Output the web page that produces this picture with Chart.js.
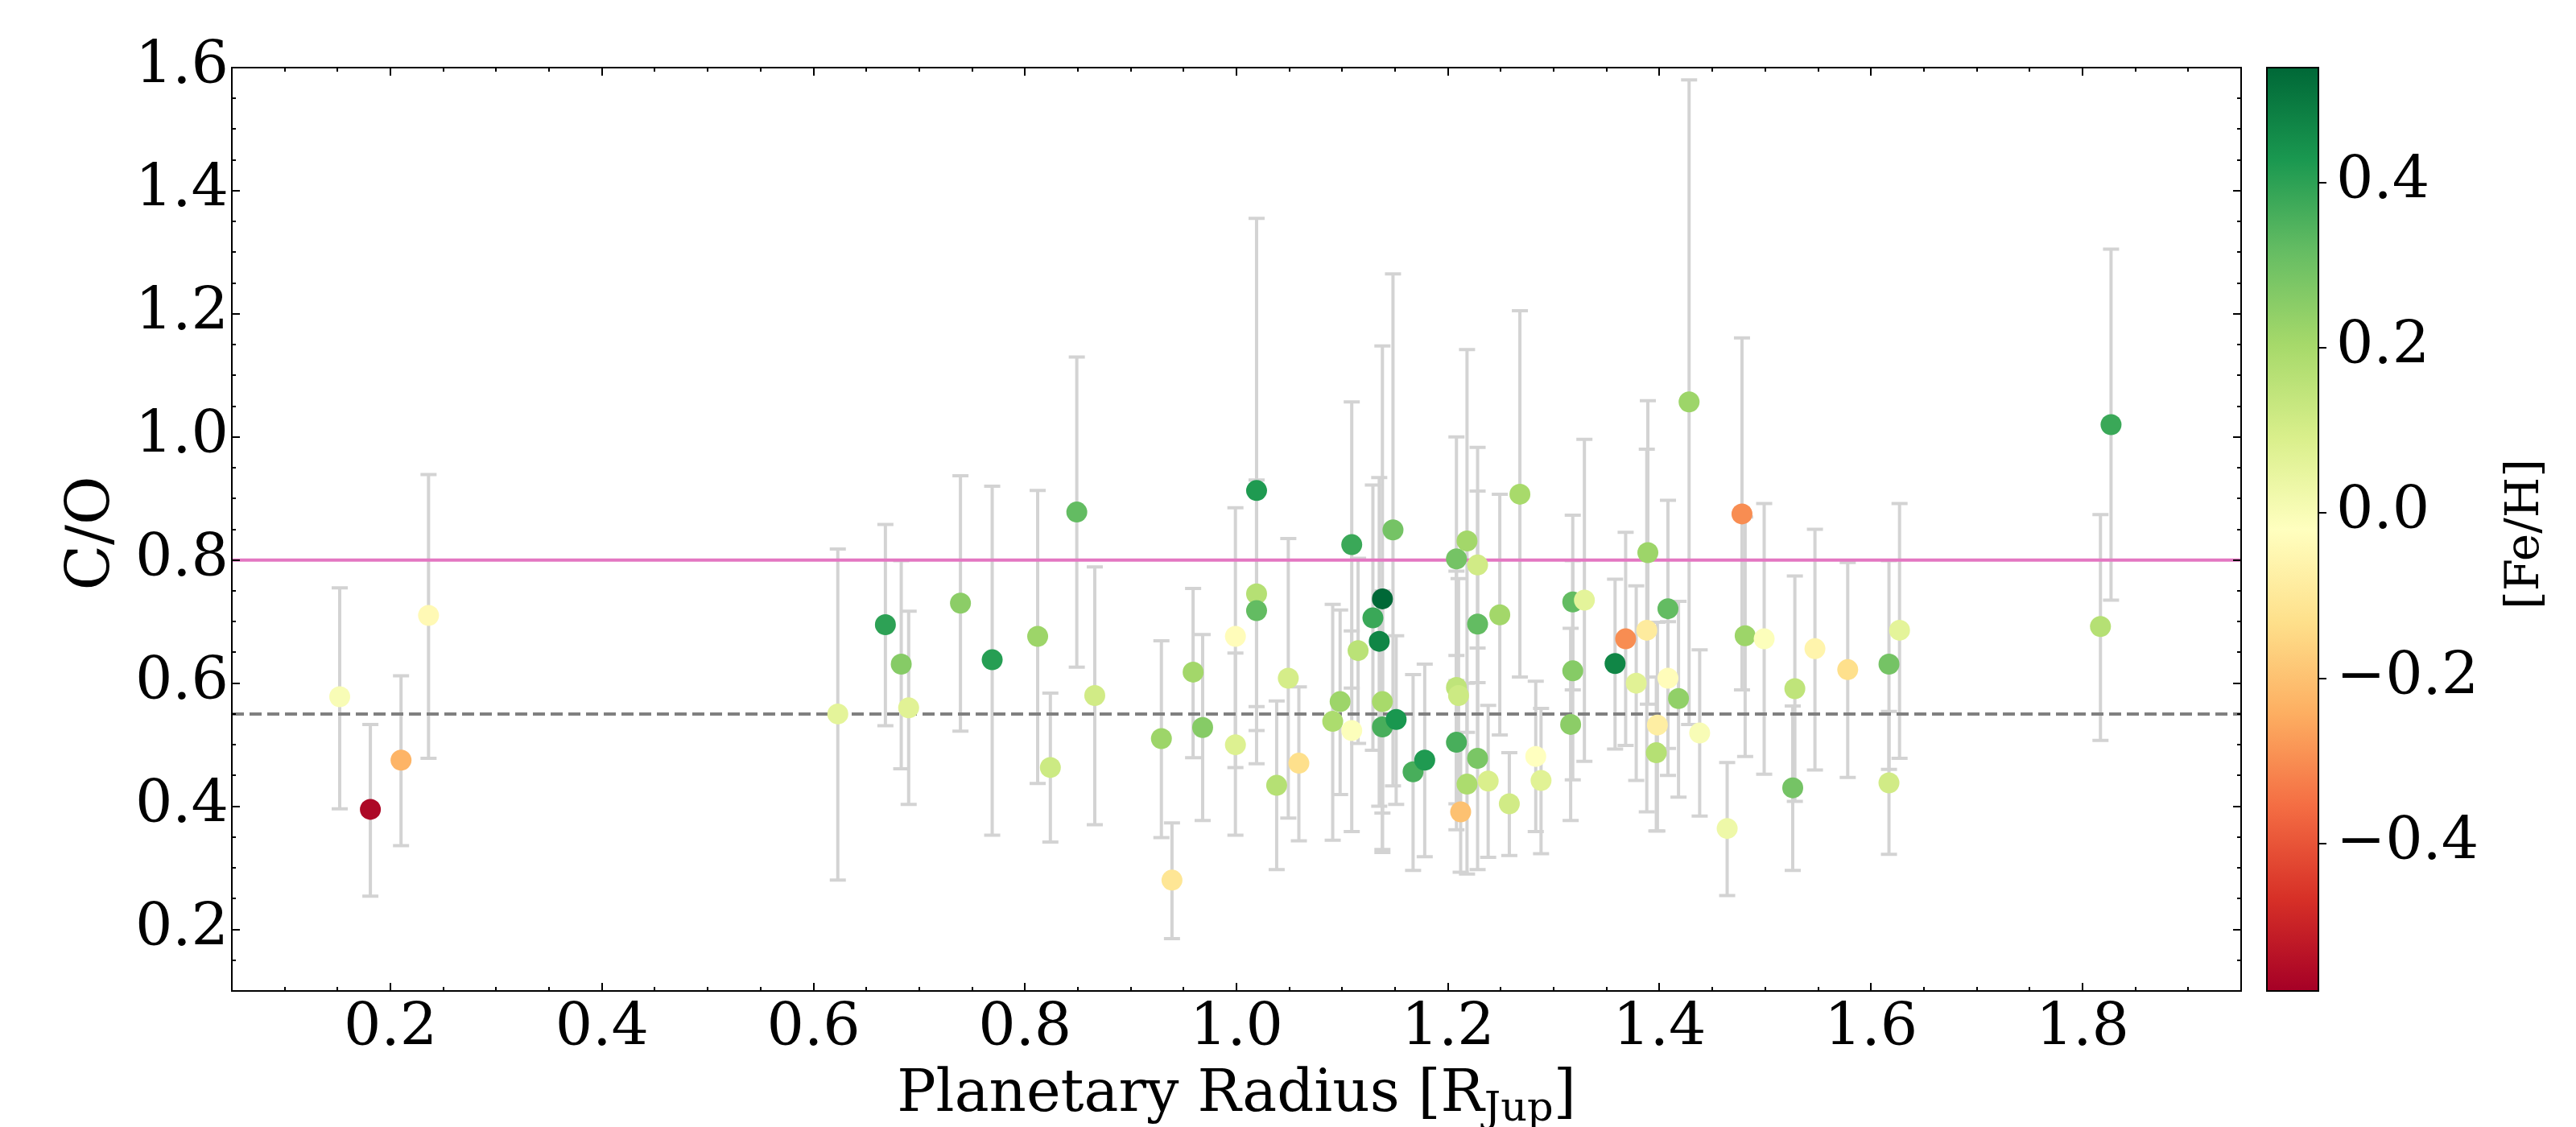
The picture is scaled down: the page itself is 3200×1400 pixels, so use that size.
<!DOCTYPE html>
<html>
<head>
<meta charset="utf-8">
<script src="https://cdn.jsdelivr.net/npm/chart.js@4.4.1/dist/chart.umd.min.js"></script>
<style>
body{margin:0;background:#fff}
#wrap{position:relative;width:3200px;height:1400px;background:#fff}
canvas{position:absolute;top:0}
</style>
</head>
<body>
<div id="wrap">
<canvas id="grafico" width="3200" height="1400" style="left:0"></canvas>
<canvas id="barraCor" width="500" height="1400" style="left:2700px"></canvas>
</div>
<script>
// dados: raio (R_Jup), C/O com limites inferior/superior e [Fe/H]
const radius = [0.152, 0.181, 0.210, 0.236, 0.623, 0.668, 0.683, 0.690, 0.739, 0.769,
  0.812, 0.824, 0.849, 0.866, 0.929, 0.939, 0.959, 0.968, 0.999, 0.999,
  1.019, 1.019, 1.019, 1.038, 1.049, 1.059, 1.091, 1.098, 1.109, 1.109,
  1.115, 1.129, 1.135, 1.138, 1.138, 1.138, 1.148, 1.151, 1.167, 1.178,
  1.208, 1.208, 1.210, 1.208, 1.212, 1.218, 1.218, 1.228, 1.228, 1.228,
  1.238, 1.249, 1.258, 1.268, 1.283, 1.288, 1.316, 1.318, 1.318, 1.329,
  1.358, 1.368, 1.378, 1.388, 1.389, 1.398, 1.397, 1.408, 1.408, 1.418,
  1.428, 1.438, 1.464, 1.478, 1.481, 1.499, 1.526, 1.528, 1.547, 1.578,
  1.617, 1.617, 1.627, 1.817, 1.827];
const co = [0.578, 0.395, 0.475, 0.710, 0.550, 0.695, 0.631, 0.560, 0.730, 0.638,
  0.676, 0.463, 0.878, 0.580, 0.510, 0.280, 0.618, 0.528, 0.676, 0.500,
  0.913, 0.745, 0.718, 0.434, 0.608, 0.470, 0.538, 0.570, 0.825, 0.523,
  0.653, 0.706, 0.668, 0.737, 0.570, 0.529, 0.849, 0.541, 0.456, 0.475,
  0.802, 0.593, 0.580, 0.504, 0.391, 0.831, 0.436, 0.792, 0.696, 0.478,
  0.441, 0.711, 0.404, 0.907, 0.481, 0.442, 0.533, 0.620, 0.732, 0.735,
  0.632, 0.672, 0.600, 0.686, 0.812, 0.532, 0.487, 0.721, 0.608, 0.575,
  1.057, 0.519, 0.364, 0.875, 0.677, 0.672, 0.430, 0.591, 0.656, 0.622,
  0.631, 0.438, 0.686, 0.692, 1.020];
const coLo = [0.396, 0.254, 0.336, 0.478, 0.280, 0.531, 0.461, 0.403, 0.522, 0.353,
  0.437, 0.342, 0.626, 0.370, 0.349, 0.185, 0.479, 0.377, 0.463, 0.353,
  0.469, 0.562, 0.523, 0.297, 0.381, 0.344, 0.345, 0.419, 0.592, 0.359,
  0.502, 0.491, 0.400, 0.325, 0.389, 0.330, 0.433, 0.403, 0.296, 0.318,
  0.604, 0.404, 0.390, 0.362, 0.293, 0.520, 0.290, 0.601, 0.480, 0.297,
  0.317, 0.516, 0.320, 0.610, 0.359, 0.323, 0.377, 0.443, 0.589, 0.473,
  0.493, 0.499, 0.442, 0.391, 0.566, 0.360, 0.360, 0.494, 0.450, 0.415,
  0.533, 0.384, 0.255, 0.589, 0.481, 0.452, 0.296, 0.408, 0.459, 0.447,
  0.460, 0.322, 0.478, 0.507, 0.735];
const coHi = [0.755, 0.533, 0.612, 0.939, 0.818, 0.858, 0.799, 0.717, 0.937, 0.920,
  0.913, 0.584, 1.130, 0.789, 0.669, 0.373, 0.754, 0.679, 0.885, 0.649,
  1.355, 0.930, 0.913, 0.571, 0.835, 0.594, 0.728, 0.719, 1.057, 0.685,
  0.803, 0.922, 0.934, 1.148, 0.750, 0.730, 1.265, 0.677, 0.614, 0.631,
  1.000, 0.782, 0.770, 0.645, 0.500, 1.142, 0.600, 0.983, 0.912, 0.657,
  0.564, 0.907, 0.487, 1.205, 0.603, 0.559, 0.689, 0.799, 0.873, 0.996,
  0.769, 0.845, 0.758, 0.980, 1.059, 0.699, 0.610, 0.897, 0.700, 0.733,
  1.580, 0.654, 0.471, 1.161, 0.870, 0.892, 0.563, 0.774, 0.850, 0.796,
  0.799, 0.554, 0.892, 0.874, 1.305];
const feh = [0.00, -0.56, -0.23, -0.04, 0.06, 0.40, 0.26, 0.07, 0.25, 0.41,
  0.22, 0.12, 0.32, 0.11, 0.22, -0.11, 0.21, 0.26, -0.03, 0.08,
  0.42, 0.17, 0.32, 0.17, 0.10, -0.13, 0.19, 0.22, 0.38, -0.01,
  0.16, 0.38, 0.47, 0.54, 0.20, 0.36, 0.29, 0.43, 0.36, 0.42,
  0.29, 0.15, 0.12, 0.36, -0.20, 0.21, 0.19, 0.11, 0.32, 0.28,
  0.09, 0.21, 0.11, 0.20, -0.02, 0.07, 0.25, 0.26, 0.32, 0.06,
  0.47, -0.30, 0.07, -0.09, 0.22, -0.08, 0.17, 0.32, -0.03, 0.24,
  0.22, 0.00, 0.03, -0.30, 0.22, -0.01, 0.29, 0.15, -0.06, -0.13,
  0.29, 0.11, 0.06, 0.17, 0.38];

const xTicks = [0.2, 0.4, 0.6, 0.8, 1.0, 1.2, 1.4, 1.6, 1.8];
const yTicks = [0.2, 0.4, 0.6, 0.8, 1.0, 1.2, 1.4, 1.6];
const cbTicks = [-0.4, -0.2, 0.0, 0.2, 0.4];
const xMin = 0.05, xMax = 1.95, yMin = 0.1, yMax = 1.6;
const fehMin = -0.578, fehMax = 0.539;
const coSolar = 0.55, coLimite = 0.8;

// mapa de cores RdYlGn (matplotlib)
const rdylgn = ['#a50026','#d73027','#f46d43','#fdae61','#fee08b','#ffffbf','#d9ef8b','#a6d96a','#66bd63','#1a9850','#006837'];
function hexRgb(h){ return [parseInt(h.substr(1,2),16), parseInt(h.substr(3,2),16), parseInt(h.substr(5,2),16)]; }
function corFeH(v){
  let t = (v - fehMin) / (fehMax - fehMin);
  t = Math.max(0, Math.min(1, t));
  const p = t * (rdylgn.length - 1);
  const i = Math.min(Math.floor(p), rdylgn.length - 2);
  const f = p - i;
  const a = hexRgb(rdylgn[i]), b = hexRgb(rdylgn[i+1]);
  const c = a.map((q, k) => Math.round(q + (b[k] - q) * f));
  return 'rgb(' + c.join(',') + ')';
}

const fonte = 'DejaVu Serif';
const tamTick = 73;
Chart.defaults.font.family = fonte;
Chart.defaults.color = '#000';

// barras de erro em cinza claro, por baixo dos pontos
const barrasErro = {
  id: 'barrasErro',
  beforeDatasetsDraw(chart){
    const ctx = chart.ctx, sx = chart.scales.x, sy = chart.scales.y, a = chart.chartArea;
    ctx.save();
    ctx.beginPath(); ctx.rect(a.left, a.top, a.right - a.left, a.bottom - a.top); ctx.clip();
    ctx.strokeStyle = '#d3d3d3';
    ctx.lineWidth = 4;
    for (let i = 0; i < radius.length; i++){
      const px = sx.getPixelForValue(radius[i]);
      const y1 = sy.getPixelForValue(coHi[i]);
      const y2 = sy.getPixelForValue(coLo[i]);
      ctx.beginPath();
      ctx.moveTo(px, y1); ctx.lineTo(px, y2);
      ctx.moveTo(px - 10, y1); ctx.lineTo(px + 10, y1);
      ctx.moveTo(px - 10, y2); ctx.lineTo(px + 10, y2);
      ctx.stroke();
    }
    ctx.restore();
  }
};

// moldura, ticks para dentro e titulos dos eixos
const moldura = {
  id: 'moldura',
  afterDraw(chart){
    const ctx = chart.ctx, sx = chart.scales.x, sy = chart.scales.y, a = chart.chartArea;
    ctx.save();
    ctx.strokeStyle = '#000';
    ctx.lineWidth = 2;
    ctx.strokeRect(a.left, a.top, a.right - a.left, a.bottom - a.top);
    ctx.beginPath();
    for (let k = 1; k < 38; k++){
      const v = xMin + k * 0.05;
      const px = Math.round(sx.getPixelForValue(v));
      const major = Math.abs(v / 0.2 - Math.round(v / 0.2)) < 1e-6;
      const L = major ? 10 : 5;
      ctx.moveTo(px, a.bottom); ctx.lineTo(px, a.bottom - L);
      ctx.moveTo(px, a.top); ctx.lineTo(px, a.top + L);
    }
    for (let k = 1; k < 30; k++){
      const v = yMin + k * 0.05;
      const py = Math.round(sy.getPixelForValue(v));
      const major = Math.abs(v / 0.2 - Math.round(v / 0.2)) < 1e-6;
      const L = major ? 10 : 5;
      ctx.moveTo(a.left, py); ctx.lineTo(a.left + L, py);
      ctx.moveTo(a.right, py); ctx.lineTo(a.right - L, py);
    }
    ctx.stroke();

    ctx.fillStyle = '#000';
    // titulo do eixo y
    ctx.save();
    ctx.translate(116, (a.top + a.bottom) / 2 + 5);
    ctx.rotate(-Math.PI / 2);
    ctx.font = '74px "' + fonte + '"';
    ctx.textAlign = 'center';
    ctx.textBaseline = 'middle';
    ctx.fillText('C/O', 0, 0);
    ctx.restore();

    // titulo do eixo x com subscrito
    const base = 1380, t1 = 'Planetary Radius [R', t2 = 'Jup', t3 = ']';
    ctx.textBaseline = 'alphabetic';
    ctx.textAlign = 'left';
    ctx.font = '72px "' + fonte + '"';
    const w1 = ctx.measureText(t1).width, w3 = ctx.measureText(t3).width;
    ctx.font = '51px "' + fonte + '"';
    const w2 = ctx.measureText(t2).width;
    let x0 = (a.left + a.right) / 2 - (w1 + w2 + w3) / 2;
    ctx.font = '72px "' + fonte + '"';
    ctx.fillText(t1, x0, base);
    ctx.font = '51px "' + fonte + '"';
    ctx.fillText(t2, x0 + w1, base + 12);
    ctx.font = '72px "' + fonte + '"';
    ctx.fillText(t3, x0 + w1 + w2, base);
    ctx.restore();
  }
};

new Chart(document.getElementById('grafico'), {
  type: 'scatter',
  data: {
    datasets: [{
      label: 'C/O',
      data: radius.map((r, i) => ({x: r, y: co[i]})),
      backgroundColor: feh.map(corFeH),
      borderWidth: 0,
      pointRadius: 13,
      pointHoverRadius: 13,
      order: 0
    },
    {
      type: 'line',
      label: 'solar',
      data: [{x: xMin, y: coSolar}, {x: xMax, y: coSolar}],
      borderColor: '#808080',
      borderWidth: 4,
      borderDash: [15, 7],
      pointRadius: 0,
      fill: false,
      order: 1
    },
    {
      type: 'line',
      label: 'C/O = 0.8',
      data: [{x: xMin, y: coLimite}, {x: xMax, y: coLimite}],
      borderColor: '#e377c2',
      borderWidth: 4,
      pointRadius: 0,
      fill: false,
      order: 1
    }]
  },
  options: {
    responsive: false,
    animation: false,
    devicePixelRatio: 1,
    layout: { padding: { top: 84, right: 416, bottom: 0, left: 0 } },
    plugins: { legend: { display: false }, tooltip: { enabled: false } },
    scales: {
      x: {
        type: 'linear', min: xMin, max: xMax,
        afterBuildTicks: s => { s.ticks = xTicks.map(v => ({value: v})); },
        afterFit: s => { s.height = 169; },
        grid: { display: false, drawTicks: false, tickLength: 0 },
        border: { display: false },
        ticks: { font: { size: tamTick }, color: '#000', padding: 4, maxRotation: 0, autoSkip: false,
          callback: v => v.toFixed(1) }
      },
      y: {
        type: 'linear', min: yMin, max: yMax,
        afterBuildTicks: s => { s.ticks = yTicks.map(v => ({value: v})); },
        afterFit: s => { s.width = 288; },
        grid: { display: false, drawTicks: false, tickLength: 0 },
        border: { display: false },
        ticks: { font: { size: tamTick }, color: '#000', padding: 4, autoSkip: false,
          callback: v => v.toFixed(1) }
      }
    }
  },
  plugins: [barrasErro, moldura]
});

// barra de cores [Fe/H]
const gradiente = {
  id: 'gradiente',
  beforeDraw(chart){
    const ctx = chart.ctx, s = chart.scales.y, a = chart.chartArea;
    const g = ctx.createLinearGradient(0, s.getPixelForValue(fehMin), 0, s.getPixelForValue(fehMax));
    rdylgn.forEach((c, i) => g.addColorStop(i / (rdylgn.length - 1), c));
    ctx.save();
    ctx.fillStyle = g;
    ctx.fillRect(a.left, a.top, a.right - a.left, a.bottom - a.top);
    ctx.restore();
  },
  afterDraw(chart){
    const ctx = chart.ctx, a = chart.chartArea;
    ctx.save();
    ctx.strokeStyle = '#000';
    ctx.lineWidth = 2;
    ctx.strokeRect(a.left, a.top, a.right - a.left, a.bottom - a.top);
    ctx.translate(438, (a.top + a.bottom) / 2 + 6);
    ctx.rotate(-Math.PI / 2);
    ctx.fillStyle = '#000';
    ctx.font = '58px "' + fonte + '"';
    ctx.textAlign = 'center';
    ctx.textBaseline = 'middle';
    ctx.fillText('[Fe/H]', 0, 0);
    ctx.restore();
  }
};

new Chart(document.getElementById('barraCor'), {
  type: 'scatter',
  data: { datasets: [] },
  options: {
    responsive: false,
    animation: false,
    devicePixelRatio: 1,
    layout: { padding: { top: 84, right: 20, bottom: 169, left: 116 } },
    plugins: { legend: { display: false }, tooltip: { enabled: false } },
    scales: {
      x: { display: false, min: 0, max: 1 },
      y: {
        type: 'linear', position: 'right', min: fehMin, max: fehMax,
        afterBuildTicks: s => { s.ticks = cbTicks.map(v => ({value: v})); },
        afterFit: s => { s.width = 300; },
        grid: { drawOnChartArea: false, drawTicks: true, tickLength: 10, color: '#000', lineWidth: 2 },
        border: { display: false },
        ticks: { font: { size: tamTick }, color: '#000', padding: 12, autoSkip: false,
          callback: v => (v < -1e-9 ? '\u2212' + Math.abs(v).toFixed(1) : Math.abs(v).toFixed(1)) }
      }
    }
  },
  plugins: [gradiente]
});
</script>
</body>
</html>
